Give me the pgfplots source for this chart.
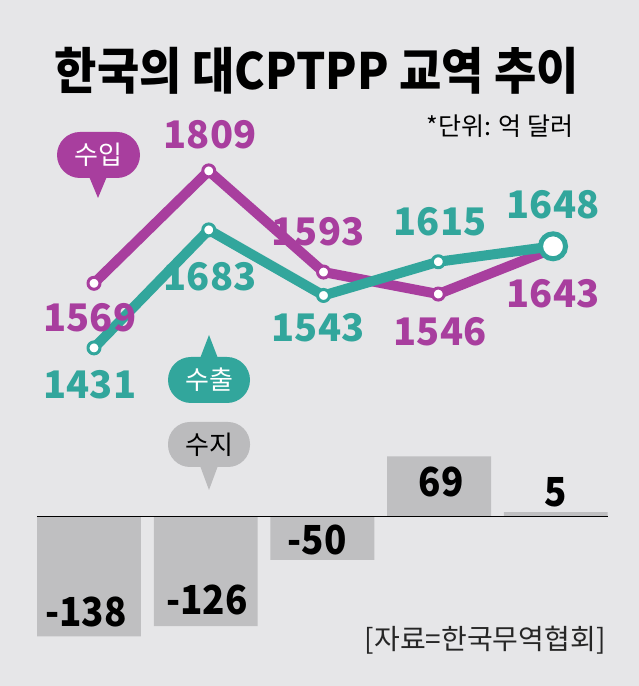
\documentclass[border=0pt]{standalone}
\usepackage{fontspec}
\setmainfont{Noto Sans CJK KR}
\usepackage{pgfplots}
\pgfplotsset{compat=1.18}
\usepackage{pgfplotstable}

\definecolor{bg}{RGB}{230,230,232}
\definecolor{purp}{RGB}{168,62,158}
\definecolor{tealc}{RGB}{50,166,156}
\definecolor{bargray}{RGB}{191,191,193}
\definecolor{bubgray}{RGB}{187,187,189}

% 수입 (imports), 수출 (exports), 수지 (balance); dx/dy = label offset in pt
\pgfplotstableread{
x y lab dx dy
0 1569 1569 -4 -34.7
1 1809 1809 1.25 36
2 1593 1593 -5.5 40
3 1546 1546 1.75 -38
4 1643 1643 0 -45.3
}\imports
\pgfplotstableread{
x y lab dx dy
0 1431 1431 -4 -37
1 1683 1683 1.25 -47
2 1543 1543 -5.5 -32.5
3 1615 1615 1.75 39.8
4 1648 1648 0 41.3
}\exports
\pgfplotstableread{
x y lab dx dy
0 -138 -138 -3 24.6
1 -126 -126 1.3 26
2 -50 -50 -5.4 20
3 69 69 1.9 -25.5
4 5 5 0.2 20
}\balance

\pgfplotsset{
  vlabels/.style={
    point meta=explicit symbolic,
    visualization depends on={\thisrow{dx} \as \dx},
    visualization depends on={\thisrow{dy} \as \dy},
    nodes near coords,
    nodes near coords style={anchor=center, xshift=\dx pt, yshift=\dy pt,
        text=#1, font=\fontsize{38}{40}\selectfont\bfseries},
  },
}

\begin{document}
\begin{tikzpicture}
\fill[bg] (0,0) rectangle (639pt,686pt);

% lines
\begin{axis}[
    at={(0,0)}, anchor=south west,
    width=639pt, height=686pt, scale only axis,
    hide axis, clip=false,
    xmin=-0.819, xmax=4.749,
    ymin=709, ymax=2174,
]
\addplot[purp, line width=10pt, line join=round, mark=*, mark size=6pt,
    mark options={fill=white, draw=purp, line width=3pt}, vlabels=purp]
    table[x=x, y=y, meta=lab] {\imports};
\addplot[tealc, line width=10pt, line join=round, mark=*, mark size=6pt,
    mark options={fill=white, draw=tealc, line width=3pt}, vlabels=tealc]
    table[x=x, y=y, meta=lab] {\exports};
\addplot[only marks, mark=*, mark size=12.5pt,
    mark options={fill=white, draw=tealc, line width=5pt}]
    coordinates {(4,1648)};
\end{axis}

% bars
\begin{axis}[
    at={(0,0)}, anchor=south west,
    width=639pt, height=686pt, scale only axis,
    hide axis, clip=false,
    xmin=-0.763, xmax=4.713,
    ymin=-195, ymax=594,
]
\addplot[ybar, bar width=0.89, fill=bargray, draw=none, vlabels=black,
    nodes near coords style={xscale=0.92, font=\fontsize{40}{42}\selectfont\bfseries}]
    table[x=x, y=y, meta=lab] {\balance};
\draw[black, line width=1.4pt] (axis cs:-0.446,0) -- (axis cs:4.447,0);
\end{axis}

% title and notes
\node[font=\fontsize{50}{52}\selectfont\bfseries, xscale=0.92] at (317pt,615pt) {한국의 대CPTPP 교역 추이};
\node[anchor=east, font=\fontsize{25}{27}\selectfont] at (577pt,560pt) {*단위: 억 달러};
\node[anchor=east, font=\fontsize{28}{30}\selectfont, text=black!85] at (609pt,46pt) {[자료=한국무역협회]};

% 수입 bubble
\fill[purp, rounded corners=23pt] (57pt,508pt) rectangle (140pt,554pt);
\fill[purp] (88pt,512pt) -- (108pt,512pt) -- (98pt,488pt) -- cycle;
\node[text=white, font=\fontsize{26}{28}\selectfont] at (98.5pt,531pt) {수입};
% 수출 bubble
\fill[tealc, rounded corners=23pt] (168pt,283pt) rectangle (250pt,329pt);
\fill[tealc] (199pt,325pt) -- (219pt,325pt) -- (209pt,351pt) -- cycle;
\node[text=white, font=\fontsize{26}{28}\selectfont] at (209pt,306pt) {수출};
% 수지 bubble
\fill[bubgray, rounded corners=22pt] (168pt,219pt) rectangle (250pt,264pt);
\fill[bubgray] (199pt,223pt) -- (219pt,223pt) -- (209pt,196pt) -- cycle;
\node[text=black, font=\fontsize{26}{28}\selectfont] at (209pt,241.5pt) {수지};
\end{tikzpicture}
\end{document}
